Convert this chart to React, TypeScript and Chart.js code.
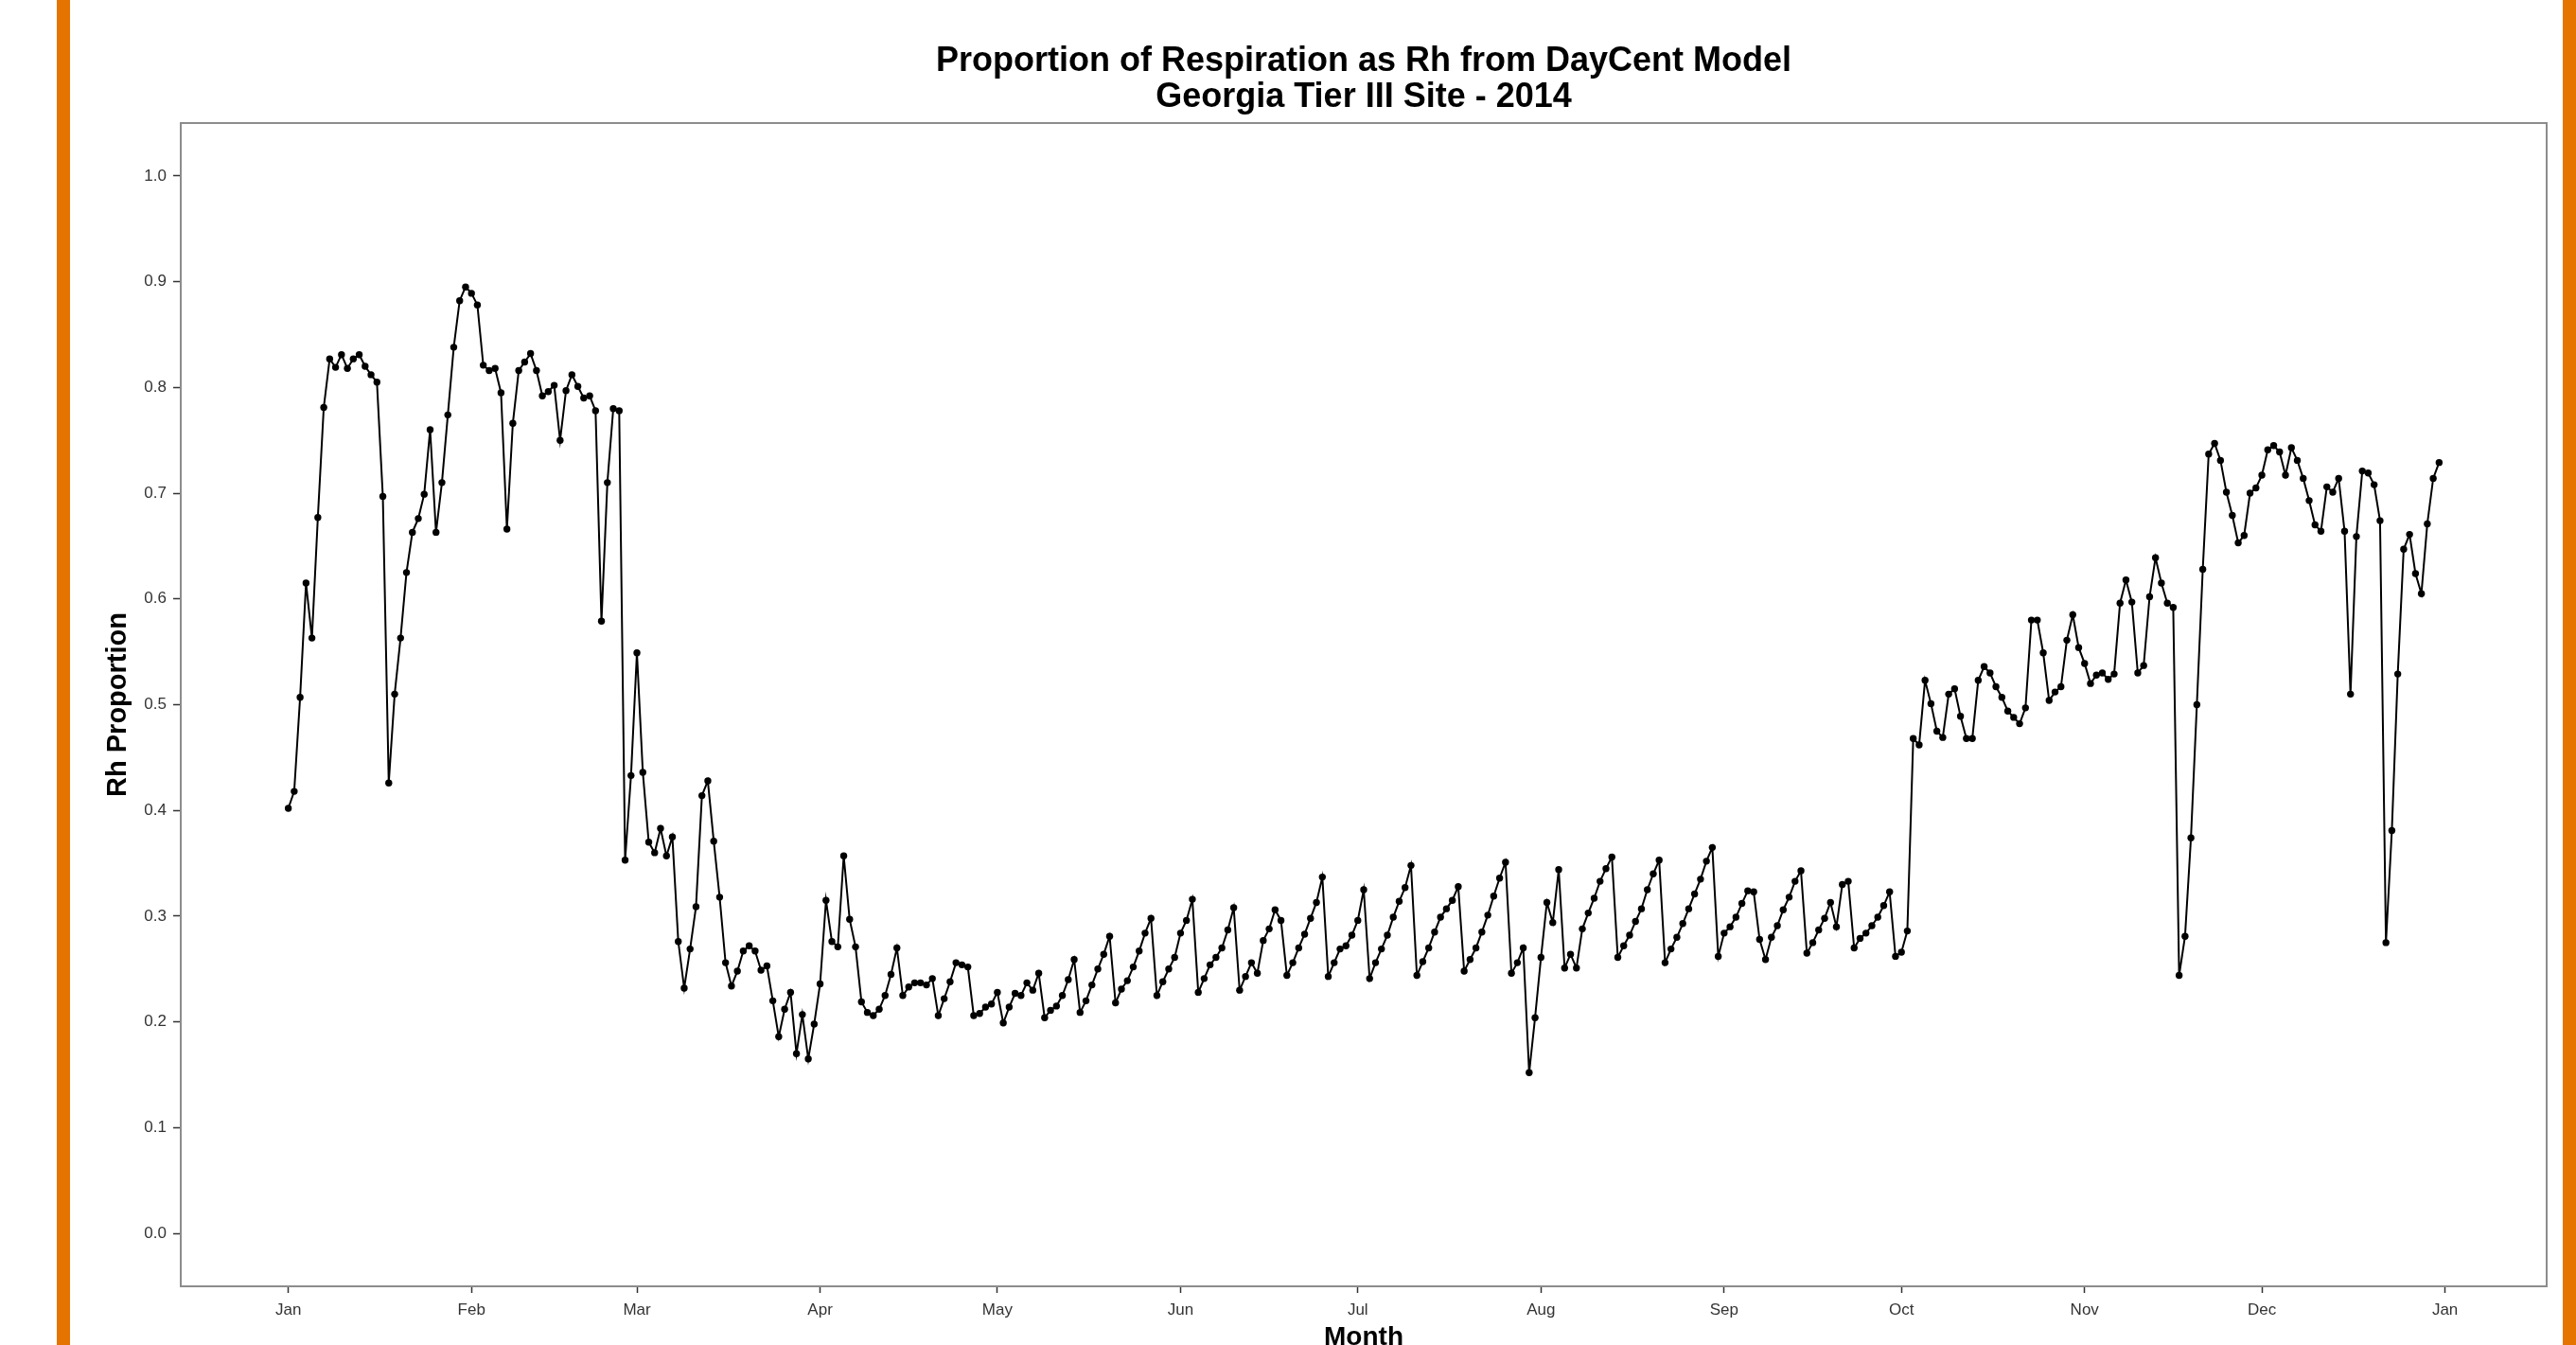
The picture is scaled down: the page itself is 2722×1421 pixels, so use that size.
import React, { useEffect, useRef } from "react";
import { Chart, registerables } from "chart.js";

Chart.register(...registerables);

// ---- Data ----
const monthLabels = ["Jan", "Feb", "Mar", "Apr", "May", "Jun", "Jul", "Aug", "Sep", "Oct", "Nov", "Dec", "Jan"];
const monthStartDays = [0, 31, 59, 90, 120, 151, 181, 212, 243, 273, 304, 334, 365];
const yTickValues = [0.0, 0.1, 0.2, 0.3, 0.4, 0.5, 0.6, 0.7, 0.8, 0.9, 1.0];

const janValues = [0.402, 0.418, 0.507, 0.615, 0.563, 0.677, 0.781, 0.827, 0.819, 0.831, 0.818, 0.827, 0.831, 0.820, 0.812, 0.805, 0.697, 0.426, 0.510, 0.563, 0.625, 0.663, 0.676, 0.699, 0.760, 0.663, 0.710, 0.774, 0.838, 0.882, 0.895];
const febValues = [0.889, 0.878, 0.821, 0.816, 0.818, 0.795, 0.666, 0.766, 0.816, 0.824, 0.832, 0.816, 0.792, 0.796, 0.802, 0.750, 0.797, 0.812, 0.801, 0.790, 0.792, 0.778, 0.579, 0.710, 0.780, 0.778, 0.353, 0.433];
const marValues = [0.549, 0.436, 0.370, 0.360, 0.383, 0.357, 0.375, 0.276, 0.232, 0.269, 0.309, 0.414, 0.428, 0.371, 0.318, 0.256, 0.234, 0.248, 0.267, 0.272, 0.267, 0.249, 0.253, 0.220, 0.186, 0.212, 0.228, 0.170, 0.207, 0.165, 0.198];
const aprValues = [0.236, 0.315, 0.276, 0.271, 0.357, 0.297, 0.271, 0.219, 0.209, 0.206, 0.212, 0.225, 0.245, 0.270, 0.225, 0.233, 0.237, 0.237, 0.235, 0.241, 0.206, 0.222, 0.238, 0.256, 0.254, 0.252, 0.206, 0.208, 0.214, 0.217];
const mayValues = [0.228, 0.199, 0.214, 0.227, 0.225, 0.237, 0.230, 0.246, 0.204, 0.211, 0.215, 0.225, 0.240, 0.259, 0.209, 0.220, 0.235, 0.250, 0.264, 0.281, 0.218, 0.231, 0.239, 0.252, 0.267, 0.284, 0.298, 0.225, 0.238, 0.250, 0.261];
const junValues = [0.284, 0.296, 0.316, 0.228, 0.241, 0.254, 0.261, 0.270, 0.287, 0.308, 0.230, 0.243, 0.256, 0.246, 0.277, 0.288, 0.306, 0.296, 0.244, 0.256, 0.270, 0.283, 0.298, 0.313, 0.337, 0.243, 0.256, 0.269, 0.272, 0.282];
const julValues = [0.296, 0.325, 0.241, 0.256, 0.269, 0.282, 0.299, 0.314, 0.327, 0.348, 0.244, 0.257, 0.270, 0.285, 0.299, 0.307, 0.315, 0.328, 0.248, 0.259, 0.270, 0.285, 0.301, 0.319, 0.336, 0.351, 0.246, 0.256, 0.270, 0.152, 0.204];
const augValues = [0.261, 0.313, 0.294, 0.344, 0.251, 0.264, 0.251, 0.288, 0.303, 0.317, 0.333, 0.345, 0.356, 0.261, 0.272, 0.282, 0.295, 0.307, 0.325, 0.340, 0.353, 0.256, 0.269, 0.280, 0.293, 0.307, 0.321, 0.335, 0.352, 0.365, 0.262];
const sepValues = [0.284, 0.290, 0.299, 0.312, 0.324, 0.323, 0.278, 0.259, 0.280, 0.291, 0.306, 0.318, 0.333, 0.343, 0.265, 0.275, 0.287, 0.298, 0.313, 0.290, 0.330, 0.333, 0.270, 0.279, 0.284, 0.291, 0.299, 0.310, 0.323, 0.262];
const octValues = [0.266, 0.286, 0.468, 0.462, 0.523, 0.501, 0.475, 0.469, 0.510, 0.515, 0.489, 0.468, 0.468, 0.523, 0.536, 0.530, 0.517, 0.507, 0.494, 0.488, 0.482, 0.497, 0.580, 0.580, 0.549, 0.504, 0.512, 0.517, 0.561, 0.585, 0.554];
const novValues = [0.539, 0.520, 0.528, 0.530, 0.524, 0.529, 0.596, 0.618, 0.597, 0.530, 0.537, 0.602, 0.639, 0.615, 0.596, 0.592, 0.244, 0.281, 0.374, 0.500, 0.628, 0.737, 0.747, 0.731, 0.701, 0.679, 0.653, 0.660, 0.700, 0.705];
const decValues = [0.717, 0.741, 0.745, 0.739, 0.717, 0.743, 0.731, 0.714, 0.693, 0.670, 0.664, 0.706, 0.701, 0.714, 0.664, 0.510, 0.659, 0.721, 0.719, 0.708, 0.674, 0.275, 0.381, 0.529, 0.647, 0.661, 0.624, 0.605, 0.671, 0.714, 0.729];

const dailyValues = [
  ...janValues, ...febValues, ...marValues, ...aprValues, ...mayValues, ...junValues,
  ...julValues, ...augValues, ...sepValues, ...octValues, ...novValues, ...decValues,
];

const FONT = "'Liberation Sans', Arial, Helvetica, sans-serif";

const plotBox = {
  id: "plotBox",
  afterDatasetsDraw(chart: any) {
    const { ctx, chartArea } = chart;
    const { left, top, right, bottom } = chartArea;
    ctx.save();
    ctx.strokeStyle = "#8c8c8c";
    ctx.lineWidth = 2;
    ctx.strokeRect(left, top, right - left, bottom - top);
    ctx.restore();
  },
};

export default function App() {
  const canvasRef = useRef<HTMLCanvasElement>(null);

  useEffect(() => {
    if (!canvasRef.current) return;
    const points = dailyValues.map((v, i) => ({ x: i, y: v }));
    const chart = new Chart(canvasRef.current, {
      type: "line",
      data: {
        datasets: [
          {
            data: points,
            borderColor: "#000000",
            borderWidth: 2,
            pointRadius: 3.7,
            pointHoverRadius: 3.7,
            pointBackgroundColor: "#000000",
            pointBorderColor: "#000000",
            pointBorderWidth: 0,
            tension: 0,
            fill: false,
          },
        ],
      },
      options: {
        animation: false,
        responsive: false,
        devicePixelRatio: 1,
        layout: { padding: { left: 90, right: 31, top: 0, bottom: 0 } },
        plugins: {
          legend: { display: false },
          tooltip: { enabled: false },
          title: {
            display: true,
            fullSize: false,
            text: ["Proportion of Respiration as Rh from DayCent Model", "Georgia Tier III Site - 2014"],
            color: "#000000",
            font: { family: FONT, size: 36, weight: "bold", lineHeight: 38 / 36 },
            padding: { top: 46, bottom: 8 },
          },
        },
        scales: {
          x: {
            type: "linear",
            min: -18.2,
            max: 382.2,
            afterFit(scale: any) {
              scale.height = 81;
            },
            afterBuildTicks(scale: any) {
              scale.ticks = monthStartDays.map((d) => ({ value: d }));
            },
            ticks: {
              autoSkip: false,
              maxRotation: 0,
              padding: 8.5,
              color: "#333333",
              font: { family: FONT, size: 17 },
              callback: (_v: any, i: number) => monthLabels[i],
            },
            grid: {
              drawOnChartArea: false,
              drawTicks: true,
              tickLength: 7,
              tickColor: "#333333",
              tickWidth: 1.5,
            },
            border: { display: false },
            title: {
              display: true,
              text: "Month",
              color: "#000000",
              font: { family: FONT, size: 28, weight: "bold", lineHeight: 1 },
              padding: { top: 0, bottom: 12.5 },
            },
          },
          y: {
            type: "linear",
            min: -0.05,
            max: 1.05,
            afterFit(scale: any) {
              scale.width = 101;
            },
            afterBuildTicks(scale: any) {
              scale.ticks = yTickValues.map((v) => ({ value: v }));
            },
            ticks: {
              padding: 7,
              color: "#333333",
              font: { family: FONT, size: 17 },
              callback: (v: any) => Number(v).toFixed(1),
            },
            grid: {
              drawOnChartArea: false,
              drawTicks: true,
              tickLength: 8,
              tickColor: "#333333",
              tickWidth: 1.5,
            },
            border: { display: false },
            title: {
              display: true,
              text: "Rh Proportion",
              color: "#000000",
              font: { family: FONT, size: 29, weight: "bold", lineHeight: 1.2 },
              padding: { top: 17.6, bottom: 0 },
            },
          },
        },
      },
      plugins: [plotBox],
    } as any);
    return () => chart.destroy();
  }, []);

  return (
    <div
      style={{
        position: "fixed",
        left: 0,
        top: 0,
        width: 2722,
        height: 1421,
        overflow: "hidden",
        background: "#ffffff",
      }}
    >
      <canvas
        ref={canvasRef}
        width={2722}
        height={1440}
        style={{ position: "absolute", left: 0, top: 0, width: 2722, height: 1440 }}
      />
      <div style={{ position: "absolute", left: 60, top: 0, width: 14, height: 1421, background: "#E57300" }} />
      <div style={{ position: "absolute", left: 2708, top: 0, width: 14, height: 1421, background: "#E57300" }} />
    </div>
  );
}
